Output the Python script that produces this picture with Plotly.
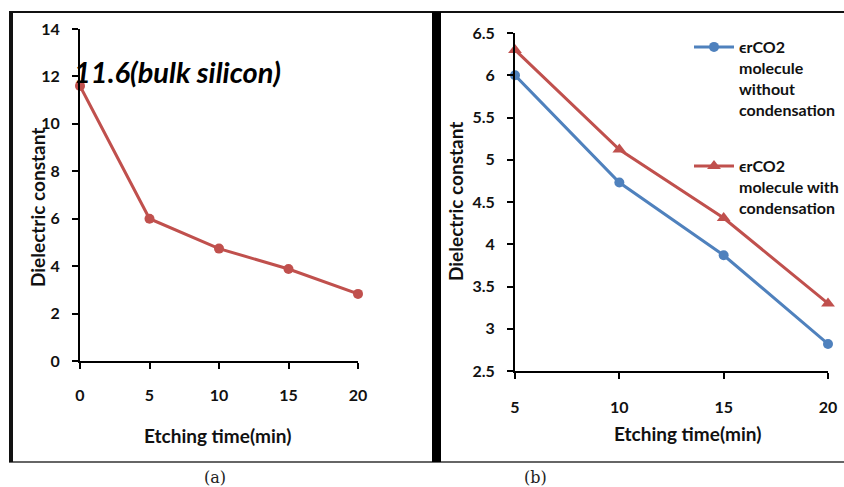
import plotly.graph_objects as go

W, H = 844, 487

# ---- data ----
time_a = [0, 5, 10, 15, 20]
eps_a = [11.6, 6.0, 4.74, 3.88, 2.83]

time_b = [5, 10, 15, 20]
eps_without = [6.0, 4.73, 3.87, 2.82]
eps_with = [6.3, 5.12, 4.31, 3.30]

ticks_a_x = [0, 5, 10, 15, 20]
ticks_a_y = [0, 2, 4, 6, 8, 10, 12, 14]
ticks_b_x = [5, 10, 15, 20]
ticks_b_y = [2.5, 3, 3.5, 4, 4.5, 5, 5.5, 6, 6.5]

name_without = "ϵrCO2<br>molecule<br>without<br>condensation"
name_with = "ϵrCO2<br>molecule with<br>condensation"

RED = "#C0504D"
BLUE = "#4F81BD"
FONT = "Lato"
TXT = "#111"


def px(x):
    return x / W


def py(y):
    return 1 - y / H


fig = go.Figure()

fig.add_trace(go.Scatter(
    x=time_a, y=eps_a, mode="lines+markers", showlegend=False, cliponaxis=False,
    line=dict(color=RED, width=3), marker=dict(color=RED, size=10, symbol="circle"),
    xaxis="x", yaxis="y"))

fig.add_trace(go.Scatter(
    x=time_b, y=eps_without, mode="lines+markers", name=name_without, cliponaxis=False,
    line=dict(color=BLUE, width=3), marker=dict(color=BLUE, size=10, symbol="circle"),
    xaxis="x2", yaxis="y2", legendgroup="a"))

fig.add_trace(go.Scatter(
    x=time_b, y=eps_with, mode="lines+markers", name=name_with, cliponaxis=False,
    line=dict(color=RED, width=3), marker=dict(color=RED, size=12, symbol="triangle-up"),
    xaxis="x2", yaxis="y2", legendgroup="b"))

tickfont = dict(family=FONT, size=16, color=TXT, weight="bold")
axis_common = dict(showline=True, linecolor="black", linewidth=2, showgrid=False,
                   zeroline=False, ticks="outside", ticklen=6, tickwidth=2,
                   tickcolor="black", tickfont=tickfont, mirror=False, automargin=False)

fig.update_layout(
    width=W, height=H,
    margin=dict(l=0, r=0, t=0, b=0),
    paper_bgcolor="white", plot_bgcolor="white",
    xaxis=dict(domain=[px(80), px(358)], range=[0, 20], tickvals=ticks_a_x,
               ticklabelstandoff=13, anchor="y", **axis_common),
    yaxis=dict(domain=[py(361), py(29)], range=[0, 14], tickvals=ticks_a_y,
               ticklabelstandoff=9, anchor="x", **axis_common),
    xaxis2=dict(domain=[px(515), px(828)], range=[5, 20], tickvals=ticks_b_x,
                ticklabelstandoff=15, anchor="y2", **axis_common),
    yaxis2=dict(domain=[py(371), py(33)], range=[2.5, 6.5], tickvals=ticks_b_y,
                ticklabelstandoff=9, anchor="x2", **axis_common),
    legend=dict(x=px(689), y=py(30), xanchor="left", yanchor="top",
                font=dict(family=FONT, size=16, color=TXT, weight="bold"),
                valign="top", tracegroupgap=33, bgcolor="rgba(0,0,0,0)",
                itemwidth=40),
    showlegend=True,
)

annos = [
    dict(text="11.6(bulk silicon)", x=px(72), y=py(72), xanchor="left", yanchor="middle",
         font=dict(family=FONT, size=29, color="black", weight="bold", style="italic")),
    dict(text="Etching time(min)", x=px(217), y=py(435), xanchor="center", yanchor="middle",
         font=dict(family=FONT, size=19, color=TXT, weight="bold")),
    dict(text="Etching time(min)", x=px(687), y=py(433), xanchor="center", yanchor="middle",
         font=dict(family=FONT, size=19, color=TXT, weight="bold")),
    dict(text="Dielectric constant", x=px(37), y=py(208), textangle=-90,
         xanchor="center", yanchor="middle",
         font=dict(family=FONT, size=19, color=TXT, weight="bold")),
    dict(text="Dielectric constant", x=px(455), y=py(202), textangle=-90,
         xanchor="center", yanchor="middle",
         font=dict(family=FONT, size=19, color=TXT, weight="bold")),
    dict(text="(a)", x=px(215), y=py(477), xanchor="center", yanchor="middle",
         font=dict(family="DejaVu Serif", size=16, color="#222")),
    dict(text="(b)", x=px(535), y=py(477), xanchor="center", yanchor="middle",
         font=dict(family="DejaVu Serif", size=16, color="#222")),
]
for a in annos:
    a.update(xref="paper", yref="paper", showarrow=False)
fig.update_layout(annotations=annos)

shapes = [
    dict(type="line", x0=px(9), x1=1, y0=py(12), y1=py(12), line=dict(color="#111", width=2)),
    dict(type="line", x0=px(9), x1=1, y0=py(462), y1=py(462), line=dict(color="#333", width=1.5)),
    dict(type="line", x0=px(11), x1=px(11), y0=py(12), y1=py(462), line=dict(color="#111", width=4)),
    dict(type="line", x0=px(436.5), x1=px(436.5), y0=py(12), y1=py(462), line=dict(color="black", width=9)),
]
for s in shapes:
    s.update(xref="paper", yref="paper")
fig.update_layout(shapes=shapes)

fig.write_html(
    "out.html",
    config={"displayModeBar": False},
    post_script="document.body.style.margin='0';document.body.style.overflow='hidden';",
)
